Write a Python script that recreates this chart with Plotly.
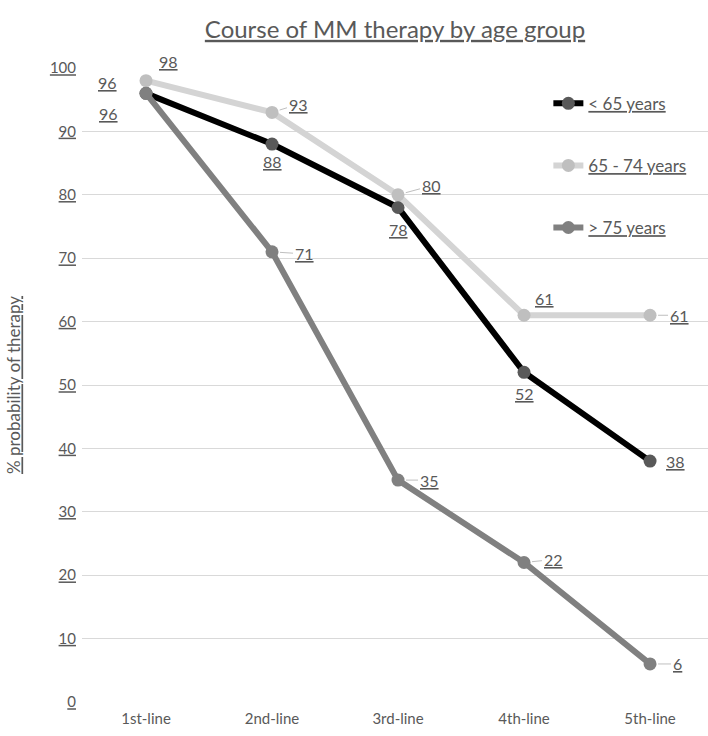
import plotly.graph_objects as go

# Lines of therapy and the probability of receiving each, by age group
lines_of_therapy = ["1st-line", "2nd-line", "3rd-line", "4th-line", "5th-line"]
under_65 = [96, 88, 78, 52, 38]
age_65_74 = [98, 93, 80, 61, 61]
over_75 = [96, 71, 35, 22, 6]

y_ticks = [0, 10, 20, 30, 40, 50, 60, 70, 80, 90, 100]

FONT = "Lato"
TEXT_GREY = "#595959"

series = [
    # name, values, line colour, marker colour,
    # label offsets (dx, dy, leader line) per point
    ("< 65 years", under_65, "#000000", "#595959",
     [(-39, 11, False), (0, -17, False), (0, -22, False), (0, -21, False),
      (25, 0, False)]),
    ("65 - 74 years", age_65_74, "#d4d4d4", "#bfbfbf",
     [(22, 19, False), (26, 8, True), (33, 9, True), (20, 17, False),
      (29, 0, True)]),
    ("> 75 years", over_75, "#808080", "#808080",
     [(-38, -20, False), (32, -2, True), (31, 0, True), (29, 3, True),
      (27, 0, True)]),
]

fig = go.Figure()
annotations = []
for i, (name, values, line_col, marker_col, offsets) in enumerate(series):
    fig.add_trace(go.Scatter(
        x=lines_of_therapy, y=values, name=f"<u>{name}</u>",
        mode="lines+markers",
        line=dict(color=line_col, width=6),
        marker=dict(color=marker_col, size=13),
        legendgroup=f"g{i}",
    ))
    for cat, v, (dx, dy, leader) in zip(lines_of_therapy, values, offsets):
        label = dict(
            x=cat, y=v, xref="x", yref="y", text=f"<u>{v}</u>",
            font=dict(family=FONT, size=16, color=TEXT_GREY),
        )
        if leader:
            label.update(showarrow=True, ax=dx, ay=-dy, arrowhead=0,
                         arrowwidth=1, arrowcolor="#bfbfbf", standoff=8)
        else:
            label.update(showarrow=False, xshift=dx, yshift=dy)
        annotations.append(label)

fig.update_layout(
    width=708, height=736,
    margin=dict(l=82, r=0, t=68, b=34),
    paper_bgcolor="white", plot_bgcolor="white",
    title=dict(text="<u>Course of MM therapy by age group</u>",
               xref="paper", x=0.5, xanchor="center",
               yref="container", y=0.96, yanchor="middle",
               font=dict(family=FONT, size=24, color=TEXT_GREY)),
    xaxis=dict(type="category", range=[-0.508, 4.46], showgrid=False,
               showline=False, ticks="", ticklabelstandoff=6,
               tickfont=dict(family=FONT, size=15, color=TEXT_GREY)),
    yaxis=dict(range=[0, 100], tickvals=y_ticks,
               ticktext=[f"<u>{t}</u>" for t in y_ticks],
               showgrid=True, gridcolor="#d9d9d9", gridwidth=1,
               zeroline=False, showline=False, ticks="", ticklabelstandoff=5,
               tickfont=dict(family=FONT, size=15, color=TEXT_GREY),
               title=dict(text="<u>% probability of therapy</u>", standoff=24,
                          font=dict(family=FONT, size=17, color=TEXT_GREY))),
    showlegend=True,
    legend=dict(x=0.745, y=0.972, xanchor="left", yanchor="top",
                traceorder="grouped", tracegroupgap=37,
                bgcolor="rgba(0,0,0,0)",
                font=dict(family=FONT, size=17, color=TEXT_GREY)),
    annotations=annotations,
)

fig.write_html("out.html")
